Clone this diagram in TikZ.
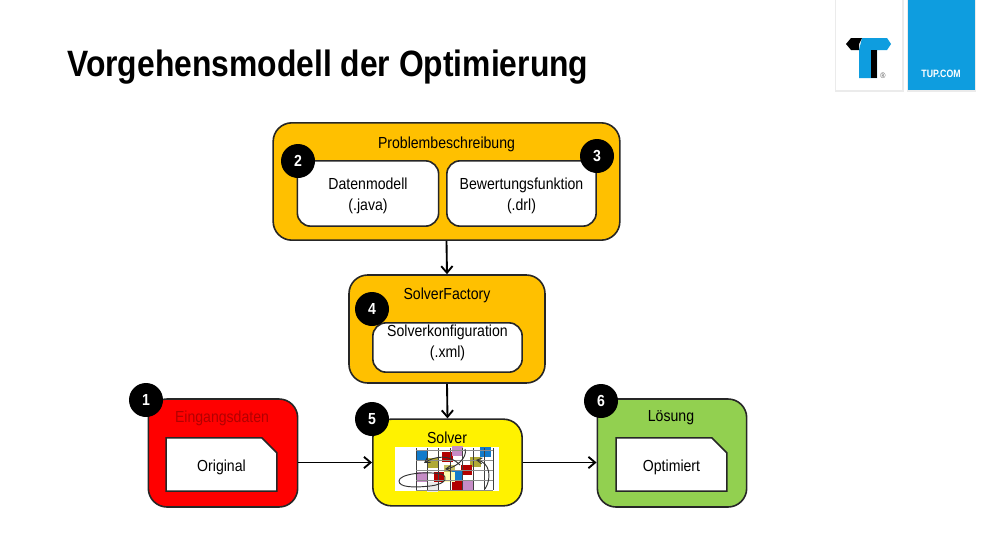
\documentclass[tikz,border=0pt]{standalone}
\usepackage{fontspec}
\setmainfont[FakeStretch=0.88]{Liberation Sans}
\newfontfamily\titlefont[FakeStretch=0.868]{Liberation Sans Bold}
\newfontfamily\tupfont[FakeStretch=0.82]{Liberation Sans Bold}
\usetikzlibrary{arrows,arrows.meta,positioning,shapes,shapes.misc}
\definecolor{proborange}{HTML}{FFC000}
\definecolor{solgreen}{HTML}{92D050}
\definecolor{tupblue}{HTML}{0E9DDF}
\tikzset{
  outerbox/.style={draw=black!85,line width=1.2pt,rounded corners=14pt,inner sep=0pt},
  innerbox/.style={draw=black!85,fill=white,line width=1.2pt,rounded corners=10pt,inner sep=0pt},
  docbox/.style={draw=black!85,fill=white,line width=1.1pt,chamfered rectangle,chamfered rectangle corners=north east,chamfered rectangle xsep=6pt,chamfered rectangle ysep=6pt,inner sep=0pt,text height=10.5pt,text depth=0pt,font=\fontsize{12}{15.8}\selectfont},
  numdot/.style={circle,fill=black,text=white,minimum size=25.5pt,inner sep=0pt,font=\fontsize{12}{12}\selectfont\bfseries},
  head/.style={inner sep=0pt,align=center,font=\fontsize{12}{15.8}\selectfont},
  flow/.style={-{Straight Barb[length=5pt,width=8.5pt]},line width=1.4pt,black}
}
\begin{document}
\begin{tikzpicture}[x=0.75pt,y=-0.75pt]
\useasboundingbox (0,0) rectangle (1000,543);
% title
\node[anchor=west,inner sep=0pt,font=\titlefont\fontsize{27.5}{30}\selectfont] (title) at (67,67) {Vorgehensmodell der Optimierung};
% logo
\fill[black!8] (835,0) rectangle (904,92);
\fill[white] (836,0) rectangle (902,90);
\fill[black!8] (907,0) rectangle (976,92);
\fill[tupblue] (908,0) rectangle (975,90);
\fill[tupblue] (862,38) -- (887,38) -- (891,44) -- (887,50) -- (877,50) -- (877,78) -- (859,78) -- (859,50) -- cycle;
\fill[black] (862,38) -- (851,38) -- (846,44) -- (851,50) -- (859,50) -- (859,44) -- cycle;
\fill[black] (871,50) rectangle (877,78);
\node[inner sep=0pt,text=black!65,font=\fontsize{6}{6}\selectfont] (reg) at (883,76) {®};
\node[inner sep=0pt,text=white,font=\tupfont\fontsize{8}{8}\selectfont] (tup) at (941,74) {TUP.COM};
% boxes
\node[outerbox,fill=proborange,minimum width=260pt,minimum height=88pt] (problem) at (446.5,181.5) {};
\node[head] (problemtxt) at (446.5,144) {Problembeschreibung};
\node[innerbox,minimum width=106pt,minimum height=49pt] (daten) at (368,193.5) {};
\node[head] (datentxt) at (368,196) {Datenmodell\\(.java)};
\node[innerbox,minimum width=112pt,minimum height=49pt] (bewertung) at (521.5,193.5) {};
\node[head] (bewertungtxt) at (521.5,196) {Bewertungsfunktion\\(.drl)};
\node[outerbox,fill=proborange,minimum width=147pt,minimum height=81pt] (factory) at (447,329) {};
\node[head] (factorytxt) at (447,295) {SolverFactory};
\node[innerbox,minimum width=112pt,minimum height=37pt] (konfig) at (447.5,347.5) {};
\node[head] (konfigtxt) at (447.5,343) {Solverkonfiguration\\(.xml)};
\node[outerbox,fill=red,minimum width=112pt,minimum height=81pt] (eingang) at (223,453) {};
\node[head,text=red!70!black] (eingangtxt) at (222,418) {Eingangsdaten};
\node[docbox,minimum width=83pt,minimum height=40pt] (original) at (221.5,464.5) {Original};
\node[outerbox,fill=yellow,minimum width=112pt,minimum height=65pt] (solver) at (447.5,462.5) {};
\node[head] (solvertxt) at (447,438) {Solver};
\node[outerbox,fill=solgreen,minimum width=112pt,minimum height=81pt] (loesung) at (672,453) {};
\node[head] (loesungtxt) at (671,418) {Lösung};
\node[docbox,minimum width=83pt,minimum height=40pt] (optimiert) at (671.5,464.5) {Optimiert};
% small scene in the solver box
\fill[white] (395,447) rectangle (499,491);
\foreach \cx/\cy/\cc in {421/456/cyan!60!blue,447/457/red!70!black,457/451/violet!45,485/452/cyan!60!blue,475/462/olive!70,432/463/olive!70,449/470/olive!50,466/470/red!70!black,422/477/violet!45,439/477/red!70!black,457/476/cyan!60!blue,432/487/black!8,457/486/red!70!black,467/485/violet!45,449/477/yellow!30}
  \fill[\cc] (\cx-5.5,\cy-5) rectangle (\cx+5.5,\cy+5);
\foreach \gx in {416,427,438,450,462,473,484,493}
  \draw[black!75,line width=0.6pt] (\gx,448) -- (\gx,490);
\foreach \gy in {450,460,470,480,490}
  \draw[black!45,line width=0.5pt] (416,\gy) -- (493,\gy);
\draw[black!80,line width=0.7pt] (399,481) .. controls (399,474) and (425,471) .. (441,474) .. controls (448,476) and (448,484) .. (430,486) .. controls (412,488) and (399,487) .. (399,481);
\draw[black!80,line width=0.7pt,->,>=angle 60] (460,465) .. controls (450,454) and (435,456) .. (424,463);
\draw[black!80,line width=0.7pt,->,>=angle 60] (465,449) .. controls (468,458) and (455,468) .. (445,469);
\draw[black!80,line width=0.7pt,->,>=angle 60] (485,489) .. controls (492,478) and (490,462) .. (476,460);
% badges
\node[numdot] (n1) at (146,400) {1};
\node[numdot] (n2) at (298,161) {2};
\node[numdot] (n3) at (597,156) {3};
\node[numdot] (n4) at (372,309) {4};
\node[numdot] (n5) at (372,419) {5};
\node[numdot] (n6) at (601,401) {6};
% arrows
\draw[flow] (problem.south)--(factory.north);
\draw[flow] (factory.south)--(solver.north);
\draw[flow] (eingang.east|-solver.west)--(solver.west);
\draw[flow] (solver.east)--(loesung.west|-solver.east);
\end{tikzpicture}
\end{document}
